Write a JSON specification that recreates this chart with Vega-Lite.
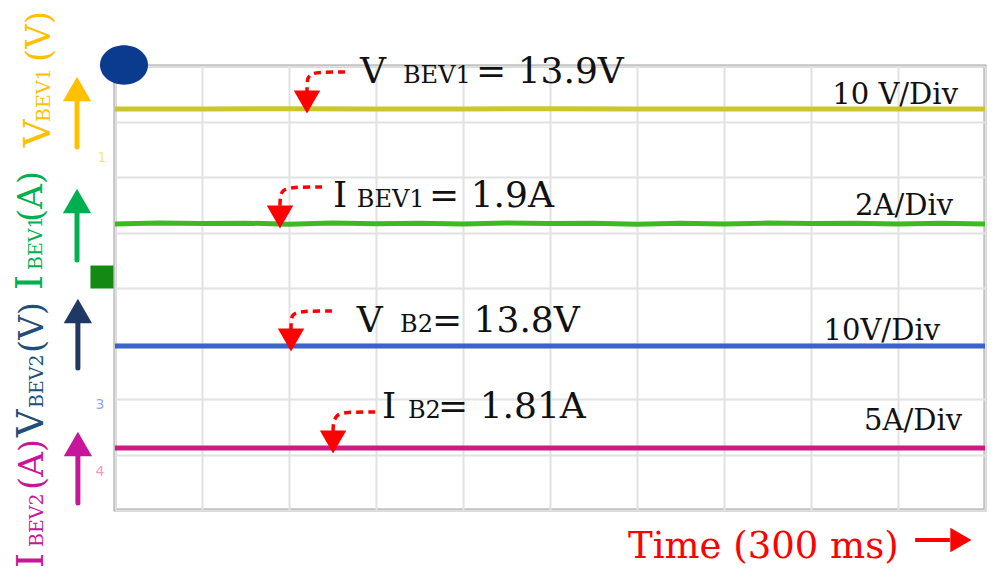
{
  "$schema": "https://vega.github.io/schema/vega-lite/v6.json",
  "width": 870,
  "height": 444,
  "autosize": "none",
  "padding": {"left": 115, "top": 66, "right": 22, "bottom": 69},
  "background": "white",
  "config": {
    "view": {"stroke": "#a3a3a3", "strokeWidth": 3},
    "text": {"font": "DejaVu Serif"}
  },
  "datasets": {
    "traces": [
      {"series": "V1", "t": 0, "div": 7.225}, {"series": "V1", "t": 300, "div": 7.225}, {"series": "V1", "t": 600, "div": 7.23}, {"series": "V1", "t": 900, "div": 7.225}, {"series": "V1", "t": 1200, "div": 7.225}, {"series": "V1", "t": 1500, "div": 7.23}, {"series": "V1", "t": 1800, "div": 7.225}, {"series": "V1", "t": 2100, "div": 7.225}, {"series": "V1", "t": 2400, "div": 7.225}, {"series": "V1", "t": 2700, "div": 7.225}, {"series": "V1", "t": 3000, "div": 7.225},
      {"series": "I1", "t": 0, "div": 5.153}, {"series": "I1", "t": 150, "div": 5.17}, {"series": "I1", "t": 300, "div": 5.16}, {"series": "I1", "t": 450, "div": 5.168}, {"series": "I1", "t": 600, "div": 5.15}, {"series": "I1", "t": 750, "div": 5.17}, {"series": "I1", "t": 900, "div": 5.158}, {"series": "I1", "t": 1050, "div": 5.168}, {"series": "I1", "t": 1200, "div": 5.153}, {"series": "I1", "t": 1350, "div": 5.17}, {"series": "I1", "t": 1500, "div": 5.16}, {"series": "I1", "t": 1650, "div": 5.166}, {"series": "I1", "t": 1800, "div": 5.15}, {"series": "I1", "t": 1950, "div": 5.168}, {"series": "I1", "t": 2100, "div": 5.155}, {"series": "I1", "t": 2250, "div": 5.17}, {"series": "I1", "t": 2400, "div": 5.16}, {"series": "I1", "t": 2550, "div": 5.168}, {"series": "I1", "t": 2700, "div": 5.153}, {"series": "I1", "t": 2850, "div": 5.168}, {"series": "I1", "t": 3000, "div": 5.153},
      {"series": "V2", "t": 0, "div": 2.955}, {"series": "V2", "t": 300, "div": 2.955}, {"series": "V2", "t": 600, "div": 2.955}, {"series": "V2", "t": 900, "div": 2.955}, {"series": "V2", "t": 1200, "div": 2.955}, {"series": "V2", "t": 1500, "div": 2.955}, {"series": "V2", "t": 1800, "div": 2.955}, {"series": "V2", "t": 2100, "div": 2.955}, {"series": "V2", "t": 2400, "div": 2.955}, {"series": "V2", "t": 2700, "div": 2.955}, {"series": "V2", "t": 3000, "div": 2.955},
      {"series": "I2", "t": 0, "div": 1.117}, {"series": "I2", "t": 300, "div": 1.117}, {"series": "I2", "t": 600, "div": 1.117}, {"series": "I2", "t": 900, "div": 1.117}, {"series": "I2", "t": 1200, "div": 1.117}, {"series": "I2", "t": 1500, "div": 1.117}, {"series": "I2", "t": 1800, "div": 1.117}, {"series": "I2", "t": 2100, "div": 1.117}, {"series": "I2", "t": 2400, "div": 1.117}, {"series": "I2", "t": 2700, "div": 1.117}, {"series": "I2", "t": 3000, "div": 1.117}
    ],
    "curves": [
      {"id": "c1", "seq": 0, "t": 793, "div": 7.892}, {"id": "c1", "seq": 1, "t": 707, "div": 7.892}, {"id": "c1", "seq": 2, "t": 666, "div": 7.856}, {"id": "c1", "seq": 3, "t": 662, "div": 7.676}, {"id": "c1", "seq": 4, "t": 662, "div": 7.495},
      {"id": "c2", "seq": 0, "t": 714, "div": 5.82}, {"id": "c2", "seq": 1, "t": 610, "div": 5.82}, {"id": "c2", "seq": 2, "t": 576, "div": 5.766}, {"id": "c2", "seq": 3, "t": 569, "div": 5.622}, {"id": "c2", "seq": 4, "t": 569, "div": 5.459},
      {"id": "c3", "seq": 0, "t": 748, "div": 3.586}, {"id": "c3", "seq": 1, "t": 645, "div": 3.586}, {"id": "c3", "seq": 2, "t": 610, "div": 3.532}, {"id": "c3", "seq": 3, "t": 607, "div": 3.387}, {"id": "c3", "seq": 4, "t": 607, "div": 3.243},
      {"id": "c4", "seq": 0, "t": 897, "div": 1.766}, {"id": "c4", "seq": 1, "t": 793, "div": 1.766}, {"id": "c4", "seq": 2, "t": 762, "div": 1.712}, {"id": "c4", "seq": 3, "t": 752, "div": 1.55}, {"id": "c4", "seq": 4, "t": 752, "div": 1.405}
    ],
    "heads": [
      {"t": 662, "div": 7.351}, {"t": 569, "div": 5.279}, {"t": 607, "div": 3.063}, {"t": 752, "div": 1.225}
    ],
    "shafts": [
      {"series": "V1 label", "t": -131, "div": 6.541, "div2": 7.387, "hdiv": 7.586},
      {"series": "I1 label", "t": -131, "div": 4.505, "div2": 5.369, "hdiv": 5.568},
      {"series": "V2 arrow", "t": -128, "div": 2.559, "div2": 3.387, "hdiv": 3.586},
      {"series": "I2 label", "t": -128, "div": 0.126, "div2": 0.991, "hdiv": 1.189}
    ],
    "timearrow": [
      {"t": 2759, "t2": 2879, "div": -0.541, "ht": 2917}
    ],
    "rotbig": [
      {"series": "V1 label", "label": "V", "t": -224, "div": 6.541},
      {"series": "I1 label", "label": "I", "t": -252, "div": 3.964},
      {"series": "V2 label", "label": "V", "t": -248, "div": 1.315},
      {"series": "I2 label", "label": "I", "t": -248, "div": -1.045}
    ],
    "rotsub": [
      {"series": "V1 label", "label": "BEV1", "t": -224, "div": 6.99},
      {"series": "I1 label", "label": "BEV1", "t": -252, "div": 4.324},
      {"series": "V2 label", "label": "BEV2", "t": -248, "div": 1.838},
      {"series": "I2 label", "label": "BEV2", "t": -248, "div": -0.667}
    ],
    "rotpar": [
      {"series": "V1 label", "label": "(V)", "t": -224, "div": 8.072},
      {"series": "I1 label", "label": "(A)", "t": -252, "div": 5.189},
      {"series": "V2 label", "label": "(V)", "t": -248, "div": 2.829},
      {"series": "I2 label", "label": "(A)", "t": -248, "div": 0.36}
    ],
    "annbig": [
      {"label": "V", "t": 845, "div": 7.694}, {"label": "= 13.9V", "t": 1245, "div": 7.694},
      {"label": "I", "t": 752, "div": 5.459}, {"label": "= 1.9A", "t": 1083, "div": 5.459},
      {"label": "V", "t": 834, "div": 3.207}, {"label": "= 13.8V", "t": 1093, "div": 3.207},
      {"label": "I", "t": 921, "div": 1.658}, {"label": "= 1.81A", "t": 1114, "div": 1.658}
    ],
    "annsub": [
      {"label": "BEV1", "t": 993, "div": 7.694},
      {"label": "BEV1", "t": 834, "div": 5.459},
      {"label": "B2", "t": 983, "div": 3.207},
      {"label": "B2", "t": 1010, "div": 1.658}
    ],
    "scales": [
      {"label": "10 V/Div", "t": 2907, "div": 7.315},
      {"label": "2A/Div", "t": 2890, "div": 5.315},
      {"label": "10V/Div", "t": 2845, "div": 3.063},
      {"label": "5A/Div", "t": 2921, "div": 1.441}
    ],
    "timelabel": [
      {"label": "Time (300 ms)", "t": 1769, "div": -0.865}
    ],
    "scope": [
      {"series": "scope", "t": 31, "div": 8.018}
    ],
    "ch2": [
      {"series": "ch2", "t": -45, "div": 4.198}
    ],
    "chdigits": [
      {"series": "ch1 tag", "label": "1", "t": -45, "div": 6.342},
      {"series": "ch3 tag", "label": "3", "t": -52, "div": 1.892},
      {"series": "ch4 tag", "label": "4", "t": -52, "div": 0.685}
    ]
  },
  "encoding": {
    "x": {"field": "t", "type": "quantitative", "scale": {"domain": [0, 3000], "nice": false, "zero": false},
      "axis": {"values": [0, 300, 600, 900, 1200, 1500, 1800, 2100, 2400, 2700, 3000], "labels": false, "ticks": false, "domain": false, "title": null, "grid": true, "gridColor": "#e2e2e2", "gridWidth": 2}},
    "y": {"field": "div", "type": "quantitative", "scale": {"domain": [0, 8], "nice": false, "zero": false},
      "axis": {"values": [0, 1, 2, 3, 4, 5, 6, 7, 8], "labels": false, "ticks": false, "domain": false, "title": null, "grid": true, "gridColor": "#e2e2e2", "gridWidth": 2}}
  },
  "layer": [
    {
      "data": {"name": "traces"},
      "mark": {"type": "line", "strokeWidth": 5, "clip": false},
      "encoding": {
        "color": {"field": "series", "type": "nominal", "legend": null,
          "scale": {
            "domain": ["V1", "I1", "V2", "I2", "V1 label", "I1 label", "V2 label", "V2 arrow", "I2 label", "scope", "ch2", "ch1 tag", "ch3 tag", "ch4 tag"],
            "range": ["#cbc62c", "#3dba22", "#3b63c9", "#cc1b84", "#ffc000", "#00b050", "#1f4e79", "#1f3864", "#c8169a", "#0b3b8f", "#138a13", "#f3ec70", "#8fa8f0", "#f59ac8"]
          }},
        "detail": {"field": "series"},
        "order": {"field": "t"}
      }
    },
    {
      "data": {"name": "curves"},
      "mark": {"type": "line", "color": "#ff0000", "strokeWidth": 3.5, "strokeDash": [7, 5], "interpolate": "basis", "clip": false},
      "encoding": {"detail": {"field": "id"}, "order": {"field": "seq"}}
    },
    {
      "data": {"name": "heads"},
      "mark": {"type": "point", "shape": "triangle-down", "filled": true, "color": "#ff0000", "size": 700, "opacity": 1, "clip": false},
      "encoding": {}
    },
    {
      "data": {"name": "shafts"},
      "mark": {"type": "rule", "strokeWidth": 5, "strokeCap": "round", "clip": false},
      "encoding": {"y2": {"field": "div2"}, "color": {"field": "series", "type": "nominal", "legend": null}}
    },
    {
      "data": {"name": "shafts"},
      "mark": {"type": "point", "shape": "triangle-up", "filled": true, "size": 800, "opacity": 1, "clip": false},
      "encoding": {"y": {"field": "hdiv", "type": "quantitative"}, "color": {"field": "series", "type": "nominal", "legend": null}}
    },
    {
      "data": {"name": "timearrow"},
      "mark": {"type": "rule", "strokeWidth": 4, "color": "#ff0000", "clip": false},
      "encoding": {"x2": {"field": "t2"}}
    },
    {
      "data": {"name": "timearrow"},
      "mark": {"type": "point", "shape": "triangle-right", "filled": true, "size": 600, "color": "#ff0000", "opacity": 1, "clip": false},
      "encoding": {"x": {"field": "ht", "type": "quantitative"}}
    },
    {
      "data": {"name": "rotbig"},
      "mark": {"type": "text", "angle": 270, "align": "left", "baseline": "alphabetic", "fontSize": 38, "clip": false},
      "encoding": {"text": {"field": "label"}, "color": {"field": "series", "type": "nominal", "legend": null}}
    },
    {
      "data": {"name": "rotsub"},
      "mark": {"type": "text", "angle": 270, "align": "left", "baseline": "alphabetic", "fontSize": 19, "clip": false},
      "encoding": {"text": {"field": "label"}, "color": {"field": "series", "type": "nominal", "legend": null}}
    },
    {
      "data": {"name": "rotpar"},
      "mark": {"type": "text", "angle": 270, "align": "left", "baseline": "alphabetic", "fontSize": 34, "clip": false},
      "encoding": {"text": {"field": "label"}, "color": {"field": "series", "type": "nominal", "legend": null}}
    },
    {
      "data": {"name": "annbig"},
      "mark": {"type": "text", "align": "left", "baseline": "alphabetic", "fontSize": 36, "color": "#111111", "clip": false},
      "encoding": {"text": {"field": "label"}}
    },
    {
      "data": {"name": "annsub"},
      "mark": {"type": "text", "align": "left", "baseline": "alphabetic", "fontSize": 24, "color": "#111111", "clip": false},
      "encoding": {"text": {"field": "label"}}
    },
    {
      "data": {"name": "scales"},
      "mark": {"type": "text", "align": "right", "baseline": "alphabetic", "fontSize": 29, "color": "#111111", "clip": false},
      "encoding": {"text": {"field": "label"}}
    },
    {
      "data": {"name": "timelabel"},
      "mark": {"type": "text", "align": "left", "baseline": "alphabetic", "fontSize": 37, "color": "#ff0000", "clip": false},
      "encoding": {"text": {"field": "label"}}
    },
    {
      "data": {"name": "scope"},
      "mark": {"type": "point", "shape": "M-1,0A1,0.82 0 1,0 1,0A1,0.82 0 1,0 -1,0Z", "filled": true, "size": 2304, "opacity": 1, "clip": false},
      "encoding": {"color": {"field": "series", "type": "nominal", "legend": null}}
    },
    {
      "data": {"name": "ch2"},
      "mark": {"type": "point", "shape": "square", "filled": true, "size": 529, "opacity": 1, "clip": false},
      "encoding": {"color": {"field": "series", "type": "nominal", "legend": null}}
    },
    {
      "data": {"name": "chdigits"},
      "mark": {"type": "text", "align": "center", "baseline": "middle", "fontSize": 14, "font": "DejaVu Sans", "clip": false},
      "encoding": {"text": {"field": "label"}, "color": {"field": "series", "type": "nominal", "legend": null}}
    }
  ]
}
